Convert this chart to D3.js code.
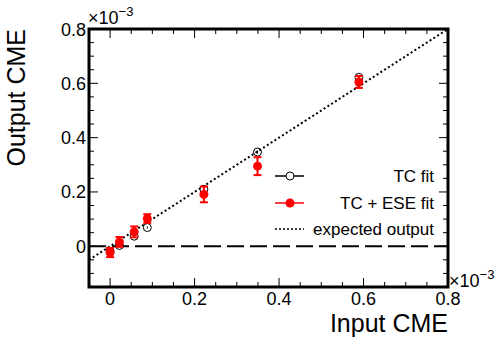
<!DOCTYPE html>
<html>
<head>
<meta charset="UTF-8">
<script src="https://d3js.org/d3.v7.min.js"></script>
<style>
  body { margin:0; background:#fff; }
  svg { display:block; font-family:"Liberation Sans", Arial, sans-serif; }
</style>
</head>
<body>
<svg width="498" height="346"></svg>
<script>
// values in units of 1e-3
const inputCME = [0, 0.022, 0.057, 0.088, 0.222, 0.349, 0.589];
const tcFit    = [-0.02, 0.003, 0.037, 0.069, 0.21, 0.347, 0.622];
const tcErr    = [0.004, 0.004, 0.004, 0.004, 0.006, 0.006, 0.008];
const eseFit   = [-0.023, 0.016, 0.053, 0.102, 0.191, 0.295, 0.605];
const eseErr   = [0.017, 0.018, 0.02, 0.016, 0.029, 0.033, 0.022];
const xTicks = [0, 0.2, 0.4, 0.6, 0.8];
const yTicks = [0, 0.2, 0.4, 0.6, 0.8];
const legendItems = ['TC fit', 'TC + ESE fit', 'expected output'];

const svg = d3.select('svg');
const L = 89, R = 448, T = 29, B = 287;
const x = d3.scaleLinear().domain([-0.05, 0.8]).range([L, R]);
const y = d3.scaleLinear().domain([-0.15, 0.8]).range([B, T]);

// minor + major ticks on all 4 sides (inside)
const ticks = svg.append('g').attr('stroke', '#000').attr('stroke-width', 1);
d3.range(-0.05, 0.8001, 0.05).forEach(v => {
  const major = Math.abs(Math.round(v / 0.2) * 0.2 - v) < 1e-6;
  const len = major ? 9 : 5;
  ticks.append('line').attr('x1', x(v)).attr('x2', x(v)).attr('y1', B).attr('y2', B - len);
  ticks.append('line').attr('x1', x(v)).attr('x2', x(v)).attr('y1', T).attr('y2', T + len);
});
d3.range(-0.15, 0.8001, 0.05).forEach(v => {
  const major = Math.abs(Math.round(v / 0.2) * 0.2 - v) < 1e-6;
  const len = major ? 9 : 5;
  ticks.append('line').attr('y1', y(v)).attr('y2', y(v)).attr('x1', L).attr('x2', L + len);
  ticks.append('line').attr('y1', y(v)).attr('y2', y(v)).attr('x1', R).attr('x2', R - len);
});

// tick labels
svg.append('g').selectAll('text').data(xTicks).join('text')
  .attr('x', d => x(d)).attr('y', 305).attr('text-anchor', 'middle')
  .attr('font-size', 18).text(d => d3.format('~g')(d));
svg.append('g').selectAll('text').data(yTicks).join('text')
  .attr('x', 86).attr('y', d => y(d) + 6.5).attr('text-anchor', 'end')
  .attr('font-size', 18).text(d => d3.format('~g')(d));

// x10^-3 labels
function expLabel(px, py) {
  const t = svg.append('text').attr('x', px).attr('y', py).attr('font-size', 18);
  t.append('tspan').text('×10');
  t.append('tspan').attr('font-size', 13).attr('dy', -8).text('−3');
}
expLabel(88, 24);
expLabel(449, 287);

// axis titles
svg.append('text').attr('x', R).attr('y', 332).attr('text-anchor', 'end')
  .attr('font-size', 25).text('Input CME');
svg.append('text').attr('transform', `translate(25,${T}) rotate(-90)`)
  .attr('text-anchor', 'end').attr('font-size', 25).text('Output CME');

// zero line
svg.append('line').attr('x1', L).attr('x2', R).attr('y1', y(0)).attr('y2', y(0))
  .attr('stroke', '#000').attr('stroke-width', 2).attr('stroke-dasharray', '17,6');

// expected output y = x
svg.append('line').attr('x1', x(-0.05)).attr('y1', y(-0.05)).attr('x2', x(0.8)).attr('y2', y(0.8))
  .attr('stroke', '#000').attr('stroke-width', 2).attr('stroke-dasharray', '2,2.5');

// TC fit: open circles
const tc = svg.append('g');
inputCME.forEach((v, i) => {
  tc.append('line').attr('x1', x(v)).attr('x2', x(v))
    .attr('y1', y(tcFit[i] - tcErr[i])).attr('y2', y(tcFit[i] + tcErr[i]))
    .attr('stroke', '#000').attr('stroke-width', 1);
});
tc.selectAll('circle').data(inputCME).join('circle')
  .attr('cx', d => x(d)).attr('cy', (d, i) => y(tcFit[i])).attr('r', 4)
  .attr('fill', 'none').attr('stroke', '#000').attr('stroke-width', 1);

// TC + ESE fit: red filled with capped error bars
const ese = svg.append('g').attr('stroke', '#f00').attr('stroke-width', 2);
inputCME.forEach((v, i) => {
  const y1 = y(eseFit[i] - eseErr[i]), y2 = y(eseFit[i] + eseErr[i]);
  ese.append('line').attr('x1', x(v)).attr('x2', x(v)).attr('y1', y1).attr('y2', y2);
  ese.append('line').attr('x1', x(v) - 4).attr('x2', x(v) + 4).attr('y1', y1).attr('y2', y1);
  ese.append('line').attr('x1', x(v) - 4).attr('x2', x(v) + 4).attr('y1', y2).attr('y2', y2);
});
svg.append('g').selectAll('circle').data(inputCME).join('circle')
  .attr('cx', d => x(d)).attr('cy', (d, i) => y(eseFit[i])).attr('r', 4.5)
  .attr('fill', '#f00');

// legend
const lg = svg.append('g');
const ly = [176, 203, 229];
legendItems.forEach((name, i) => {
  lg.append('text').attr('x', 434).attr('y', ly[i] + 6).attr('text-anchor', 'end')
    .attr('font-size', 17).text(name);
});
lg.append('line').attr('x1', 275).attr('x2', 304).attr('y1', ly[0]).attr('y2', ly[0])
  .attr('stroke', '#000').attr('stroke-width', 1.5);
lg.append('circle').attr('cx', 290).attr('cy', ly[0]).attr('r', 4)
  .attr('fill', '#fff').attr('stroke', '#000').attr('stroke-width', 1);
lg.append('line').attr('x1', 275).attr('x2', 304).attr('y1', ly[1]).attr('y2', ly[1])
  .attr('stroke', '#f00').attr('stroke-width', 1.5);
lg.append('circle').attr('cx', 290).attr('cy', ly[1]).attr('r', 4.5).attr('fill', '#f00');
lg.append('line').attr('x1', 275).attr('x2', 304).attr('y1', ly[2]).attr('y2', ly[2])
  .attr('stroke', '#000').attr('stroke-width', 1.5).attr('stroke-dasharray', '2,2');

// frame
svg.append('rect').attr('x', L).attr('y', T).attr('width', R - L).attr('height', B - T)
  .attr('fill', 'none').attr('stroke', '#000').attr('stroke-width', 3);
</script>
</body>
</html>
